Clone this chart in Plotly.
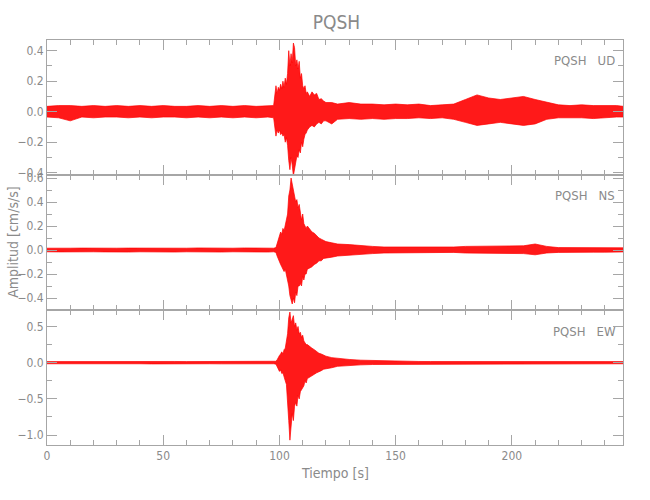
import plotly.graph_objects as go
from plotly.subplots import make_subplots

# time grid (s) for the envelope values
T = [0, 5, 10, 15, 20, 25, 30, 35, 40, 45, 50, 55, 60, 65, 70, 75, 80, 85, 90, 95,
     97.5, 98.5, 99, 99.5, 100, 100.5, 101, 101.5, 102, 102.5, 103, 103.5,
     104, 104.5, 105, 105.5, 106, 106.5, 107, 107.5, 108, 108.5, 109, 109.5,
     110, 110.5, 111, 111.5, 112,
     113, 114, 115, 116, 117, 118, 119, 120, 122.5,
     125, 130, 135, 140, 145, 150, 155, 160, 165, 170, 175, 180, 185, 190, 195,
     200, 205, 210, 215, 220, 225, 230, 235, 240, 245, 248]

# UD component (upper / lower envelope, cm/s/s)
ud_up = [0.035, 0.04, 0.04, 0.035, 0.04, 0.035, 0.04, 0.035, 0.04, 0.035,
         0.04, 0.035, 0.035, 0.04, 0.035, 0.04, 0.035, 0.04, 0.035, 0.04,
         0.04, 0.17, 0.12, 0.16, 0.14, 0.18, 0.15, 0.20, 0.16, 0.22, 0.18, 0.25,
         0.40, 0.30, 0.38, 0.32, 0.45, 0.42, 0.30, 0.34, 0.28, 0.33, 0.22, 0.25,
         0.17, 0.15, 0.17, 0.12, 0.13,
         0.10, 0.13, 0.11, 0.12, 0.08, 0.085, 0.07, 0.06, 0.06,
         0.05, 0.06, 0.05, 0.05, 0.045, 0.05, 0.045, 0.05, 0.04, 0.045, 0.05,
         0.08, 0.11, 0.09, 0.08, 0.09, 0.10, 0.08, 0.06, 0.045, 0.04, 0.045,
         0.04, 0.04, 0.04, 0.035]
ud_lo = [-0.035, -0.04, -0.06, -0.035, -0.04, -0.035, -0.035, -0.04, -0.035, -0.04,
         -0.035, -0.035, -0.04, -0.035, -0.04, -0.035, -0.04, -0.035, -0.04, -0.035,
         -0.04, -0.16, -0.12, -0.14, -0.12, -0.15, -0.14, -0.16, -0.15, -0.20, -0.17, -0.22,
         -0.32, -0.38, -0.30, -0.35, -0.42, -0.38, -0.33, -0.29, -0.30, -0.25, -0.27, -0.20,
         -0.23, -0.18, -0.15, -0.14, -0.12,
         -0.10, -0.09, -0.10, -0.08, -0.07, -0.08, -0.06, -0.06, -0.08,
         -0.05, -0.045, -0.05, -0.045, -0.05, -0.045, -0.045, -0.04, -0.045, -0.04, -0.05,
         -0.07, -0.09, -0.08, -0.07, -0.08, -0.09, -0.08, -0.05, -0.04, -0.04, -0.04,
         -0.045, -0.04, -0.035, -0.035]

# NS component
ns_up = [0.015, 0.018, 0.015, 0.016, 0.014, 0.017, 0.015, 0.016, 0.015, 0.018,
         0.015, 0.016, 0.015, 0.017, 0.015, 0.016, 0.015, 0.017, 0.015, 0.016,
         0.015, 0.02, 0.05, 0.10, 0.12, 0.15, 0.13, 0.18, 0.16, 0.20, 0.25, 0.30,
         0.45, 0.50, 0.60, 0.55, 0.50, 0.45, 0.40, 0.42, 0.35, 0.38, 0.30, 0.25,
         0.30, 0.22, 0.20, 0.18, 0.20,
         0.17, 0.15, 0.14, 0.12, 0.10, 0.09, 0.08, 0.07, 0.06,
         0.05, 0.045, 0.035, 0.03, 0.025, 0.025, 0.02, 0.02, 0.02, 0.02, 0.025,
         0.03, 0.03, 0.035, 0.03, 0.03, 0.035, 0.05, 0.03, 0.02, 0.02, 0.02,
         0.02, 0.02, 0.02, 0.018]
ns_lo = [-0.015, -0.016, -0.015, -0.017, -0.015, -0.016, -0.014, -0.017, -0.015, -0.016,
         -0.015, -0.017, -0.015, -0.016, -0.015, -0.017, -0.015, -0.016, -0.015, -0.017,
         -0.015, -0.02, -0.05, -0.08, -0.10, -0.12, -0.14, -0.15, -0.18, -0.16, -0.20, -0.25,
         -0.30, -0.38, -0.42, -0.45, -0.40, -0.44, -0.35, -0.38, -0.30, -0.30, -0.28, -0.30,
         -0.22, -0.25, -0.20, -0.20, -0.16,
         -0.15, -0.14, -0.12, -0.11, -0.09, -0.09, -0.07, -0.07, -0.06,
         -0.05, -0.04, -0.035, -0.03, -0.025, -0.02, -0.02, -0.02, -0.02, -0.02, -0.02,
         -0.025, -0.03, -0.03, -0.025, -0.03, -0.03, -0.04, -0.025, -0.02, -0.018, -0.018,
         -0.018, -0.018, -0.018, -0.016]

# EW component
ew_up = [0.015, 0.016, 0.015, 0.017, 0.015, 0.016, 0.015, 0.017, 0.015, 0.016,
         0.015, 0.017, 0.015, 0.016, 0.015, 0.017, 0.015, 0.016, 0.015, 0.017,
         0.015, 0.02, 0.04, 0.08, 0.10, 0.12, 0.15, 0.12, 0.18, 0.20, 0.30, 0.40,
         0.62, 0.70, 0.55, 0.60, 0.65, 0.50, 0.55, 0.45, 0.50, 0.40, 0.42, 0.35,
         0.38, 0.30, 0.28, 0.25, 0.25,
         0.22, 0.20, 0.18, 0.15, 0.13, 0.12, 0.10, 0.09, 0.07,
         0.06, 0.045, 0.035, 0.03, 0.025, 0.02, 0.018, 0.017, 0.016, 0.016, 0.017,
         0.018, 0.018, 0.018, 0.018, 0.02, 0.02, 0.025, 0.018, 0.017, 0.016, 0.016,
         0.016, 0.016, 0.015, 0.015]
ew_lo = [-0.015, -0.017, -0.015, -0.016, -0.015, -0.017, -0.015, -0.016, -0.015, -0.017,
         -0.015, -0.016, -0.015, -0.017, -0.015, -0.016, -0.015, -0.017, -0.015, -0.016,
         -0.015, -0.02, -0.04, -0.08, -0.12, -0.10, -0.15, -0.14, -0.20, -0.25, -0.30, -0.50,
         -0.80, -1.07, -0.90, -0.70, -0.80, -0.60, -0.55, -0.60, -0.45, -0.50, -0.40, -0.38,
         -0.35, -0.32, -0.25, -0.28, -0.22,
         -0.20, -0.18, -0.16, -0.14, -0.12, -0.11, -0.09, -0.08, -0.07,
         -0.05, -0.04, -0.03, -0.025, -0.02, -0.02, -0.018, -0.017, -0.016, -0.016, -0.017,
         -0.018, -0.018, -0.018, -0.018, -0.02, -0.02, -0.025, -0.018, -0.017, -0.016, -0.016,
         -0.016, -0.016, -0.015, -0.015]

components = ["UD", "NS", "EW"]
station = "PQSH"
y_ranges = [[-0.415, 0.47], [-0.5, 0.625], [-1.137, 0.728]]
y_dticks = [0.2, 0.2, 0.5]
y_minor = [0.1, 0.1, 0.25]
x_range = [0, 247.8]
x_ticks = [0, 50, 100, 150, 200]

envs = [(ud_up, ud_lo), (ns_up, ns_lo), (ew_up, ew_lo)]

TXT = "#8a8a8a"
AX = "#a6a6a6"
FONT = "DejaVu Sans Condensed, Liberation Sans Narrow, Roboto Condensed, Liberation Sans"

fig = make_subplots(rows=3, cols=1, shared_xaxes=True, vertical_spacing=0)

for i, (up, lo) in enumerate(envs):
    fig.add_trace(go.Scatter(
        x=T + T[::-1], y=up + lo[::-1], mode="lines", fill="toself",
        fillcolor="rgba(255,0,0,0.9)", line=dict(color="#ff0000", width=0.7),
        showlegend=False, hoverinfo="skip"), row=i + 1, col=1)
    fig.update_yaxes(range=y_ranges[i], dtick=y_dticks[i], tick0=0, tickformat=".1f",
                     ticks="inside", ticklen=10, tickcolor=AX, showline=True,
                     linecolor=AX, linewidth=1, mirror="ticks", showgrid=False,
                     zeroline=False, tickfont=dict(family=FONT, size=12, color=TXT),
                     minor=dict(ticks="inside", ticklen=5, dtick=y_minor[i], tick0=0,
                                tickcolor=AX, showgrid=False),
                     row=i + 1, col=1)
    fig.update_xaxes(range=x_range, tickvals=x_ticks, ticks="inside", ticklen=10,
                     tickcolor=AX, showline=True, linecolor=AX, linewidth=1,
                     mirror="ticks", showgrid=False, zeroline=False,
                     showticklabels=(i == 2),
                     tickfont=dict(family=FONT, size=12, color=TXT),
                     minor=dict(ticks="inside", ticklen=5, dtick=10, tick0=0,
                                tickcolor=AX, showgrid=False),
                     row=i + 1, col=1)

label_y = [0.949, 0.615, 0.28]
for i, c in enumerate(components):
    fig.add_annotation(text=station + "\u00a0\u00a0\u00a0" + c, xref="paper", yref="paper",
                       x=0.9335, y=label_y[i], xanchor="center", yanchor="middle",
                       showarrow=False, font=dict(family=FONT, size=13, color=TXT))

fig.add_annotation(text="Tiempo [s]", xref="paper", yref="paper", x=0.5, y=-0.069,
                   xanchor="center", yanchor="middle",
                   showarrow=False, font=dict(family=FONT, size=14, color=TXT))
fig.add_annotation(text="Amplitud [cm/s/s]", xref="paper", yref="paper", x=-0.0596,
                   y=0.501, xanchor="center", yanchor="middle", textangle=-90,
                   showarrow=False, font=dict(family=FONT, size=14, color=TXT))

fig.update_layout(
    width=650, height=500,
    margin=dict(l=47, r=27, t=40, b=55),
    paper_bgcolor="white", plot_bgcolor="white",
    title=dict(text=station, x=0.5024, xref="paper", xanchor="center",
               y=0.956, yanchor="middle",
               font=dict(family=FONT, size=19, color=TXT)),
    showlegend=False,
)

fig.write_html("out.html", config={"displayModeBar": False},
               post_script="document.body.style.margin='0';document.body.style.padding='0';")
